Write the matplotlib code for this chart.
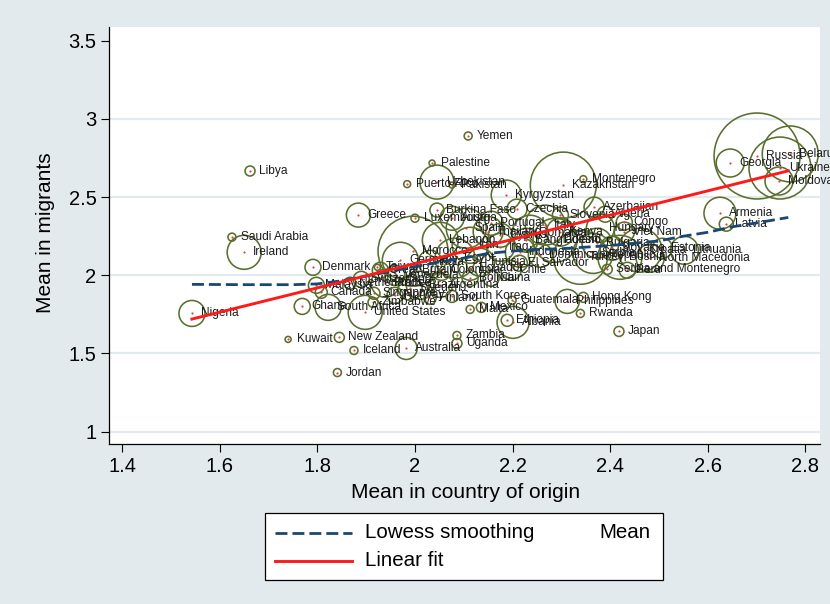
import matplotlib
matplotlib.use('Agg')
import matplotlib.pyplot as plt
from matplotlib.lines import Line2D
from matplotlib.patches import Rectangle

plt.rcParams['font.family'] = ['Liberation Sans', 'DejaVu Sans']

# ---------------- data ----------------
countries = [
    "Libya", "Puerto Rico", "Greece", "Luxembourg", "Saudi Arabia", "Ireland",
    "Denmark", "Taiwan", "Yemen", "Palestine", "Uzbekistan", "Pakistan",
    "Kyrgyzstan", "Czechia", "Burkina Faso", "Kazakhstan", "Montenegro",
    "Azerbaijan", "Portugal", "Congo", "Viet Nam", "Georgia", "Russia",
    "Belarus", "Ukraine", "Moldova", "Armenia", "Latvia", "Lithuania",
    "Estonia", "Serbia and Montenegro", "Peru", "Hong Kong", "Philippines",
    "Guatemala", "Rwanda", "Japan", "Ethiopia", "Albania", "Mexico", "Malta",
    "South Korea", "Zambia", "Uganda", "Australia", "China", "Chile",
    "El Salvador", "Colombia", "Nigeria", "Kuwait", "New Zealand", "Iceland",
    "Jordan", "Ghana", "South Africa", "United States", "Zimbabwe",
    "Malaysia", "Canada", "Switzerland", "Singapore", "Morocco",
    "Spain", "Austria", "Romania", "Bangladesh", "Poland", "Turkey",
    "Bulgaria", "Slovakia", "Croatia", "Bosnia", "North Macedonia",
    "Hungary", "Italy", "Iran", "Iraq", "Lebanon", "Egypt", "Tunisia",
    "India", "Brazil", "Argentina", "Ecuador", "Venezuela", "Germany",
    "France", "Netherlands", "Sweden", "Norway", "Finland", "Great Britain",
    "Slovenia", "Cyprus", "Indonesia", "Bolivia", "Dominican Republic",
    "Algeria", "Kenya", "Serbia", "Thailand",
]
origin_mean = [
    1.662, 1.984, 1.884, 2.000, 1.625, 1.650,
    1.791, 1.923, 2.109, 2.035, 2.045, 2.076,
    2.187, 2.209, 2.045, 2.304, 2.345,
    2.367, 2.156, 2.429, 2.429, 2.646, 2.701,
    2.769, 2.748, 2.746, 2.625, 2.638, 2.552,
    2.507, 2.394, 2.435, 2.345, 2.312,
    2.199, 2.339, 2.418, 2.189, 2.201, 2.136, 2.113,
    2.076, 2.086, 2.086, 1.982, 2.156, 2.197,
    2.214, 2.054, 1.543, 1.740, 1.845, 1.875,
    1.841, 1.769, 1.822, 1.898, 1.914,
    1.798, 1.808, 1.890, 1.916, 1.996,
    2.105, 2.076, 2.236, 2.228, 2.287, 2.339,
    2.373, 2.404, 2.461, 2.420, 2.482,
    2.380, 2.267, 2.113, 2.175, 2.052, 2.082, 2.134,
    2.031, 2.011, 2.052, 2.113, 1.959, 1.970,
    1.939, 1.867, 1.990, 1.959, 2.031, 1.929,
    2.298, 2.175, 2.216, 2.113, 2.257,
    2.390, 2.298, 2.365, 2.150,
]
migrant_mean = [
    2.667, 2.583, 2.385, 2.365, 2.244, 2.147,
    2.051, 2.051, 2.891, 2.718, 2.596, 2.577,
    2.513, 2.423, 2.417, 2.577, 2.615,
    2.436, 2.333, 2.340, 2.276, 2.718, 2.763,
    2.776, 2.686, 2.603, 2.397, 2.327, 2.160,
    2.173, 2.038, 2.032, 1.859, 1.833,
    1.840, 1.756, 1.641, 1.712, 1.699, 1.795, 1.782,
    1.865, 1.615, 1.564, 1.532, 1.981, 2.032,
    2.077, 2.032, 1.756, 1.590, 1.603, 1.519,
    1.378, 1.801, 1.795, 1.763, 1.827,
    1.936, 1.891, 1.974, 1.885, 2.154,
    2.301, 2.365, 2.269, 2.224, 2.224, 2.115,
    2.205, 2.173, 2.160, 2.115, 2.109,
    2.301, 2.321, 2.192, 2.179, 2.224, 2.109, 2.083,
    2.083, 1.936, 1.936, 2.045, 2.000, 2.096,
    1.949, 1.949, 1.917, 1.872, 1.853, 2.032,
    2.385, 2.256, 2.147, 1.981, 2.128,
    2.391, 2.276, 2.140, 2.280,
]
n_migrants = [
    25, 12, 144, 16, 16, 289,
    64, 9, 16, 9, 289, 9,
    225, 100, 49, 1089, 12,
    100, 144, 64, 100, 196, 1849,
    784, 961, 196, 256, 49, 196,
    100, 25, 64, 25, 144,
    16, 16, 25, 36, 256, 25, 16,
    36, 16, 25, 121, 64, 100,
    64, 100, 169, 9, 25, 16,
    16, 64, 169, 289, 25,
    64, 36, 64, 36, 1225,
    400, 144, 324, 144, 484, 729,
    225, 144, 484, 484, 196,
    196, 400, 324, 196, 324, 400, 196,
    144, 196, 144, 144, 100, 324,
    196, 36, 144, 64, 36, 64,
    64, 144, 225, 64, 144,
    64, 196, 400, 225,
]

lowess_x = [1.543, 1.65, 1.75, 1.80, 1.85, 1.90, 1.95, 2.00, 2.05, 2.10,
            2.15, 2.20, 2.25, 2.30, 2.35, 2.40, 2.45, 2.50, 2.55, 2.60,
            2.65, 2.70, 2.765]
lowess_y = [1.942, 1.940, 1.940, 1.945, 1.965, 1.995, 2.025, 2.055, 2.085, 2.11,
            2.14, 2.155, 2.165, 2.17, 2.18, 2.19, 2.205, 2.22, 2.25, 2.275,
            2.31, 2.335, 2.37]

fit_x = [1.543, 2.765]
fit_y = [1.720, 2.668]

xticks = [1.4, 1.6, 1.8, 2.0, 2.2, 2.4, 2.6, 2.8]
xtick_labels = ["1.4", "1.6", "1.8", "2", "2.2", "2.4", "2.6", "2.8"]
yticks = [1.0, 1.5, 2.0, 2.5, 3.0, 3.5]
ytick_labels = ["1", "1.5", "2", "2.5", "3", "3.5"]
grid_y = [1.0, 1.5, 2.0, 2.5, 3.0]

# ---------------- styling ----------------
BG = '#e3eaee'
GRID = '#e3eaee'
OLIVE = '#5a6f2e'
NAVY = '#1a476f'
RED = '#ff1a1a'

W, H = 830, 604
fig = plt.figure(figsize=(W / 100, H / 100), dpi=100, facecolor=BG)
ax = fig.add_axes([109 / W, 1 - 444 / H, (820 - 109) / W, (444 - 27) / H])
ax.set_facecolor('white')
ax.set_xlim(1.373, 2.83)
ax.set_ylim(0.921, 3.588)

for gy in grid_y:
    ax.axhline(gy, color=GRID, lw=1.6, zorder=0)

sizes = [2.07 * n for n in n_migrants]
ax.scatter(origin_mean, migrant_mean, s=sizes, facecolors='none',
           edgecolors=OLIVE, linewidths=1.15, zorder=2)
ax.scatter(origin_mean, migrant_mean, s=2.5, color='#e0404a',
           linewidths=0, zorder=3)
for name, xv, yv in zip(countries, origin_mean, migrant_mean):
    ax.annotate(name, (xv, yv), xytext=(6.3, 0), textcoords='offset points',
                fontsize=8.6, va='center', ha='left', color='#1c1c1c',
                zorder=3)

ax.plot(lowess_x, lowess_y, color=NAVY, lw=2.0, ls=(0, (4.3, 1.8)), zorder=4)
ax.plot(fit_x, fit_y, color=RED, lw=2.1, zorder=5)

ax.set_xticks(xticks)
ax.set_xticklabels(xtick_labels)
ax.set_yticks(yticks)
ax.set_yticklabels(ytick_labels)
ax.tick_params(direction='out', length=6, width=0.8, labelsize=14.5,
               color='black')
ax.tick_params(axis='x', pad=3)
ax.tick_params(axis='y', pad=3)
for sp in ['top', 'right']:
    ax.spines[sp].set_visible(False)
for sp in ['left', 'bottom']:
    ax.spines[sp].set_linewidth(0.9)

ax.set_xlabel("Mean in country of origin", fontsize=15)
ax.set_ylabel("Mean in migrants", fontsize=15)
ax.xaxis.set_label_coords((466 - 109) / 711, (444 - 492) / 417)
ax.xaxis.label.set_va('center')
ax.yaxis.set_label_coords((46 - 109) / 711, (444 - 233) / 417)
ax.yaxis.label.set_va('center')

# ---------------- legend ----------------
def fx(px):
    return px / W

def fy(py):
    return 1 - py / H

tf = fig.transFigure
fig.add_artist(Rectangle((fx(265), fy(580)), fx(663) - fx(265), fy(513) - fy(580),
                         transform=tf, facecolor='white', edgecolor='black',
                         lw=0.9))
fig.add_artist(Line2D([fx(275), fx(352)], [fy(533), fy(533)], transform=tf,
                      color=NAVY, lw=2.0, ls=(0, (4.3, 1.8))))
fig.add_artist(Line2D([fx(275), fx(352)], [fy(561), fy(561)], transform=tf,
                      color=RED, lw=2.1))
fig.text(fx(365), fy(533), "Lowess smoothing", fontsize=14.8, va='center', ha='left')
fig.text(fx(365), fy(561), "Linear fit", fontsize=14.8, va='center', ha='left')
fig.text(fx(599), fy(533), "Mean", fontsize=14.8, va='center', ha='left')

fig.savefig('out.png', dpi=100, facecolor=BG)
